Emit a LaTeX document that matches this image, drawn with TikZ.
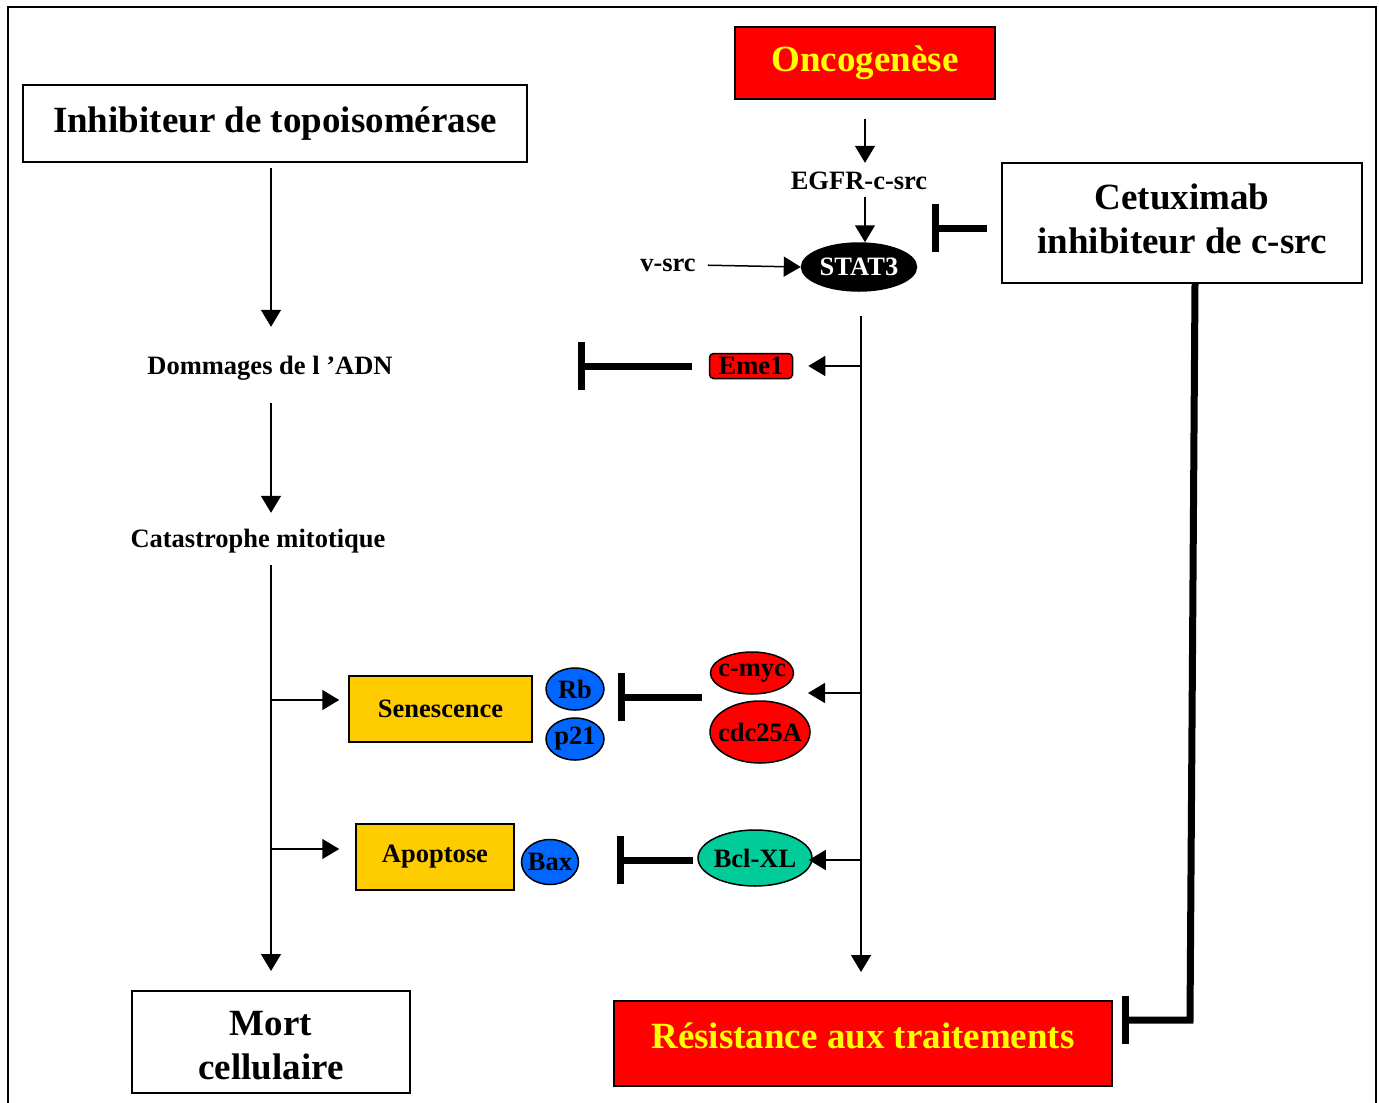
\documentclass[tikz,border=0pt]{standalone}
\usepackage{fontspec}
\setmainfont{Liberation Serif}
\usetikzlibrary{arrows.meta,shapes.geometric}
\definecolor{rouge}{HTML}{FF0000}
\definecolor{jaune}{HTML}{FFFF00}
\definecolor{ocre}{HTML}{FFCC00}
\definecolor{bleu}{HTML}{0066FF}
\definecolor{vert}{HTML}{00CC99}
\tikzset{
  grand/.style={font=\fontsize{37}{44}\selectfont\bfseries},
  petit/.style={font=\fontsize{26.5}{31}\selectfont\bfseries},
  boite/.style={draw,line width=2,inner sep=0,grand,align=center},
  rougebox/.style={boite,fill=rouge,text=jaune},
  ocrebox/.style={draw,line width=1.5,fill=ocre,inner sep=0,petit},
  lbl/.style={inner sep=0,text height=18,text depth=5,petit},
  prot/.style={ellipse,draw,line width=1.5,inner sep=0,
    label={[petit,inner sep=0]center:#1}},
  fl/.style={line width=1.5,-{Triangle[length=17,width=20]}},
  inhib/.style={line width=7,-{Bar[width=48]}}
}
\begin{document}
\begin{tikzpicture}[x=1pt,y=-1pt]
\useasboundingbox (0,0) rectangle (1379,1103);
% cadre
\draw[line width=2] (8,7) rectangle (1376,1130);
% boites principales
\node[boite,minimum width=504,minimum height=77] (topo) at (275,123.5) {Inhibiteur de topoisomérase};
\node[rougebox,minimum width=260,minimum height=72] (onco) at (865,63) {Oncogenèse};
\node[boite,minimum width=360,minimum height=120,
  label={[grand,align=center,yshift=4]center:Cetuximab\\inhibiteur de c-src}] (cetux) at (1182,223) {};
\node[boite,minimum width=278,minimum height=102,
  label={[grand,align=center,yshift=-4]center:Mort\\cellulaire}] (mort) at (271,1042) {};
\node[rougebox,minimum width=498,minimum height=85,text height=26,text depth=16] (resist) at (863,1043.5) {Résistance aux traitements};
% voie STAT3
\node[lbl] (egfr) at (859,183) {EGFR-c-src};
\node[prot=\textcolor{white}{STAT3},fill=black,minimum width=115,minimum height=48] (stat3) at (859,267) {};
\node[lbl] (vsrc) at (668,265) {v-src};
\node[draw,line width=1.5,rounded corners=4,fill=rouge,inner sep=0,petit,minimum width=83,minimum height=25] (eme1) at (751,366) {Eme1};
\node[prot=c-myc,fill=rouge,minimum width=83,minimum height=42] (cmyc) at (752,673) {};
\node[prot=cdc25A,fill=rouge,minimum width=100,minimum height=62] (cdc) at (760,732) {};
\node[prot=Bcl-XL,fill=vert,minimum width=114,minimum height=56] (bcl) at (755,858) {};
% voie de mort
\node[lbl] (dommages) at (270,368) {Dommages de l ’ADN};
\node[lbl] (catas) at (258,541) {Catastrophe mitotique};
\node[ocrebox,minimum width=183,minimum height=66] (senes) at (440.5,709) {Senescence};
\node[ocrebox,minimum width=158,minimum height=66] (apop) at (435,857) {Apoptose};
\node[prot=Rb,fill=bleu,minimum width=58,minimum height=42] (rb) at (575,689) {};
\node[prot=p21,fill=bleu,minimum width=58,minimum height=42] (p21) at (575,739) {};
\node[prot=Bax,fill=bleu,minimum width=57,minimum height=45] (bax) at (550,862) {};
% points libres
\coordinate (tronc) at (861,316);
\coordinate (troncfin) at (861,972);
\coordinate (cible) at (808,693);
\coordinate (b1) at (271,700);
\coordinate (b2) at (271,849);
\coordinate (stopA) at (932,228);
\coordinate (stopB) at (578,366);
\coordinate (srcC) at (702,697);
\coordinate (stopC) at (618,697);
\coordinate (stopD) at (617,860);
\coordinate (coude) at (1190,1020);
\coordinate (stopE) at (1122,1020);
% fleches
\draw[fl,shorten <=19,shorten >=8.5] (onco.south) -- (egfr.north -| onco);
\draw[fl,shorten <=2] (egfr.south -| onco) -- (stat3.north -| onco);
\draw[fl,shorten <=12] (vsrc.east) -- (stat3.west);
\draw[fl] (tronc) -- (troncfin);
\draw[fl,shorten >=15] (tronc |- eme1) -- (eme1.east);
\draw[fl] (tronc |- cible) -- (cible);
\draw[fl,shorten >=-4] (tronc |- stopD) -- (bcl.east |- stopD);
\draw[fl,shorten <=5,shorten >=29.5] (topo.south -| mort.north) -- (dommages.north -| mort.north);
\draw[fl,shorten <=23.5,shorten >=16.5] (dommages.south -| mort.north) -- (catas.north -| mort.north);
\draw[fl,shorten <=12.5,shorten >=19] (catas.south -| mort.north) -- (mort.north);
\draw[fl,shorten >=9] (b1) -- (b1 -| senes.west);
\draw[fl,shorten >=16] (b2) -- (b2 -| apop.west);
% inhibitions
\draw[inhib,shorten <=14] (cetux.west |- stopA) -- (stopA);
\draw[inhib,shorten <=17] (eme1.west |- stopB) -- (stopB);
\draw[inhib] (srcC) -- (stopC);
\draw[inhib,shorten <=4] (bcl.west |- stopD) -- (stopD);
\draw[inhib] ([xshift=13]cetux.south) -- (coude) -- (stopE);
\end{tikzpicture}
\end{document}
